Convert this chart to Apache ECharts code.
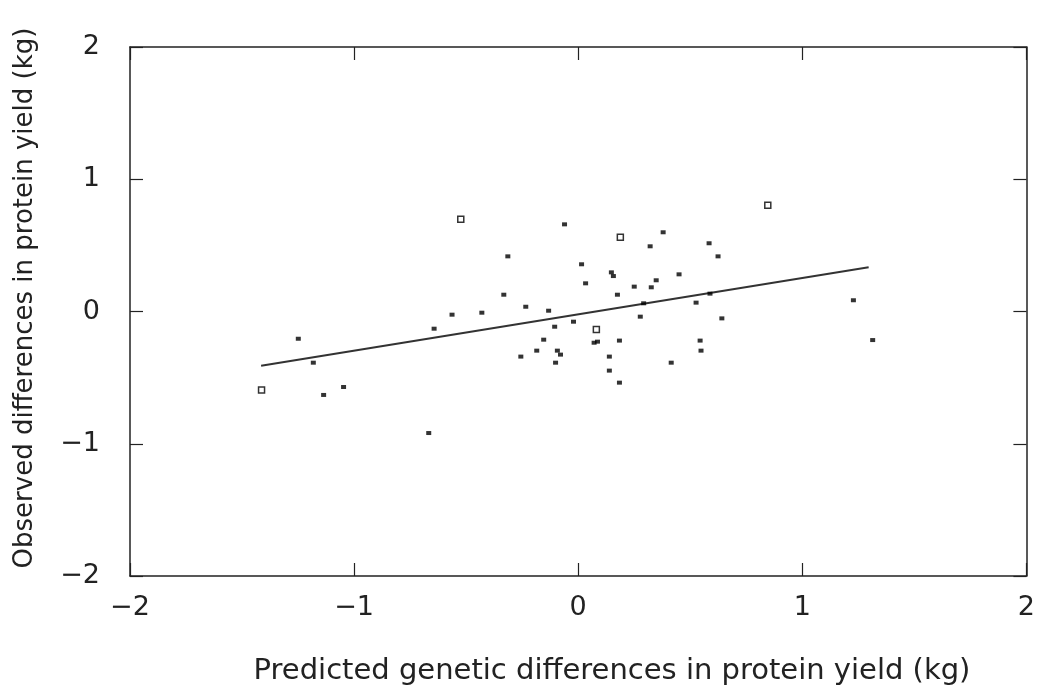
<!DOCTYPE html>
<html>
<head>
<meta charset="utf-8">
<script src="https://cdn.jsdelivr.net/npm/echarts@6/dist/echarts.min.js"></script>
<style>html,body{margin:0;padding:0;background:#fff}#c{width:1038px;height:687px}</style>
</head>
<body>
<div id="c"></div>
<script>
// Predicted (x) and observed (y) differences, filled small markers
const predX = [-1.249,-1.182,-1.136,-1.047,-0.667,-0.643,-0.563,-0.430,-0.061,0.379,0.321,0.584,0.624,-0.314,0.015,0.148,0.157,0.033,0.348,0.450,0.250,0.326,-0.332,0.175,-0.234,-0.132,0.292,0.588,0.526,0.641,0.277,-0.021,-0.105,0.071,0.086,0.184,-0.154,-0.185,-0.256,-0.093,-0.079,-0.101,0.139,0.139,0.184,0.415,0.544,0.548,1.228,1.314];
const obsY  = [-0.206,-0.387,-0.631,-0.571,-0.919,-0.130,-0.024,-0.009,0.659,0.599,0.493,0.516,0.417,0.417,0.357,0.296,0.268,0.213,0.236,0.281,0.188,0.183,0.127,0.127,0.036,0.006,0.062,0.135,0.067,-0.052,-0.039,-0.077,-0.115,-0.236,-0.228,-0.220,-0.213,-0.296,-0.341,-0.296,-0.326,-0.387,-0.341,-0.447,-0.538,-0.387,-0.220,-0.296,0.085,-0.216];
// Open square markers
const openX = [-0.524,-1.413,0.188,0.081,0.846];
const openY = [0.697,-0.594,0.561,-0.137,0.803];
// Regression line end points
const fitX = [-1.415, 1.296];
const fitY = [-0.410, 0.334];
// Axis ticks
const xTicks = [-2,-1,0,1,2];
const yTicks = [-2,-1,0,1,2];
const xTitle = 'Predicted genetic differences in protein yield (kg)';
const yTitle = 'Observed differences in protein yield (kg)';

const zip = (a,b) => a.map((v,i)=>[v,b[i]]);
const FONT = 'DejaVu Sans';
const lineCol = '#222';

const chart = echarts.init(document.getElementById('c'), null, {renderer:'canvas'});
const axisBase = (pos, showLabel, isX) => ({
  type:'value', min:xTicks[0], max:xTicks[xTicks.length-1], interval:1, position:pos,
  splitLine:{show:false},
  axisLine:{show:true, onZero:false, lineStyle:{color:lineCol, width:1.5}},
  axisTick:{show:true, inside:true, length:13, lineStyle:{color:lineCol, width:1.2}},
  axisLabel:{show:showLabel, color:'#222', fontFamily:FONT, fontSize:27, margin: isX?18:30,
    formatter: v => (v<0 ? '\u2212'+Math.abs(v) : String(v)),
    showMinLabel:true, showMaxLabel:true}
});
const xa1 = axisBase('bottom', true, true);
const xa2 = axisBase('top', false, true);
const ya1 = axisBase('left', true, false); ya1.min = yTicks[0]; ya1.max = yTicks[yTicks.length-1];
const ya2 = axisBase('right', false, false); ya2.min = yTicks[0]; ya2.max = yTicks[yTicks.length-1];

chart.setOption({
  animation:false,
  backgroundColor:'#fff',
  grid:{left:130, top:47, right:7, bottom:111},
  xAxis:[xa1, xa2],
  yAxis:[ya1, ya2],
  graphic:[
    {type:'text', x:612, y:671, style:{text:xTitle, font:'29px "DejaVu Sans"', fill:'#222', textAlign:'center', textVerticalAlign:'middle'}},
    {type:'text', x:25, y:298, rotation:Math.PI/2, style:{text:yTitle, font:'26px "DejaVu Sans"', fill:'#222', textAlign:'center', textVerticalAlign:'middle'}}
  ],
  series:[
    {type:'line', data:zip(fitX, fitY), symbol:'none', lineStyle:{color:'#333', width:2}, z:2},
    {type:'scatter', data:zip(predX, obsY), symbol:'rect', symbolSize:[5,4], itemStyle:{color:'#000'}, z:3},
    {type:'scatter', data:zip(openX, openY), symbol:'rect', symbolSize:6, itemStyle:{color:'#fff', borderColor:'#000', borderWidth:1.5}, z:4}
  ]
});
</script>
</body>
</html>
